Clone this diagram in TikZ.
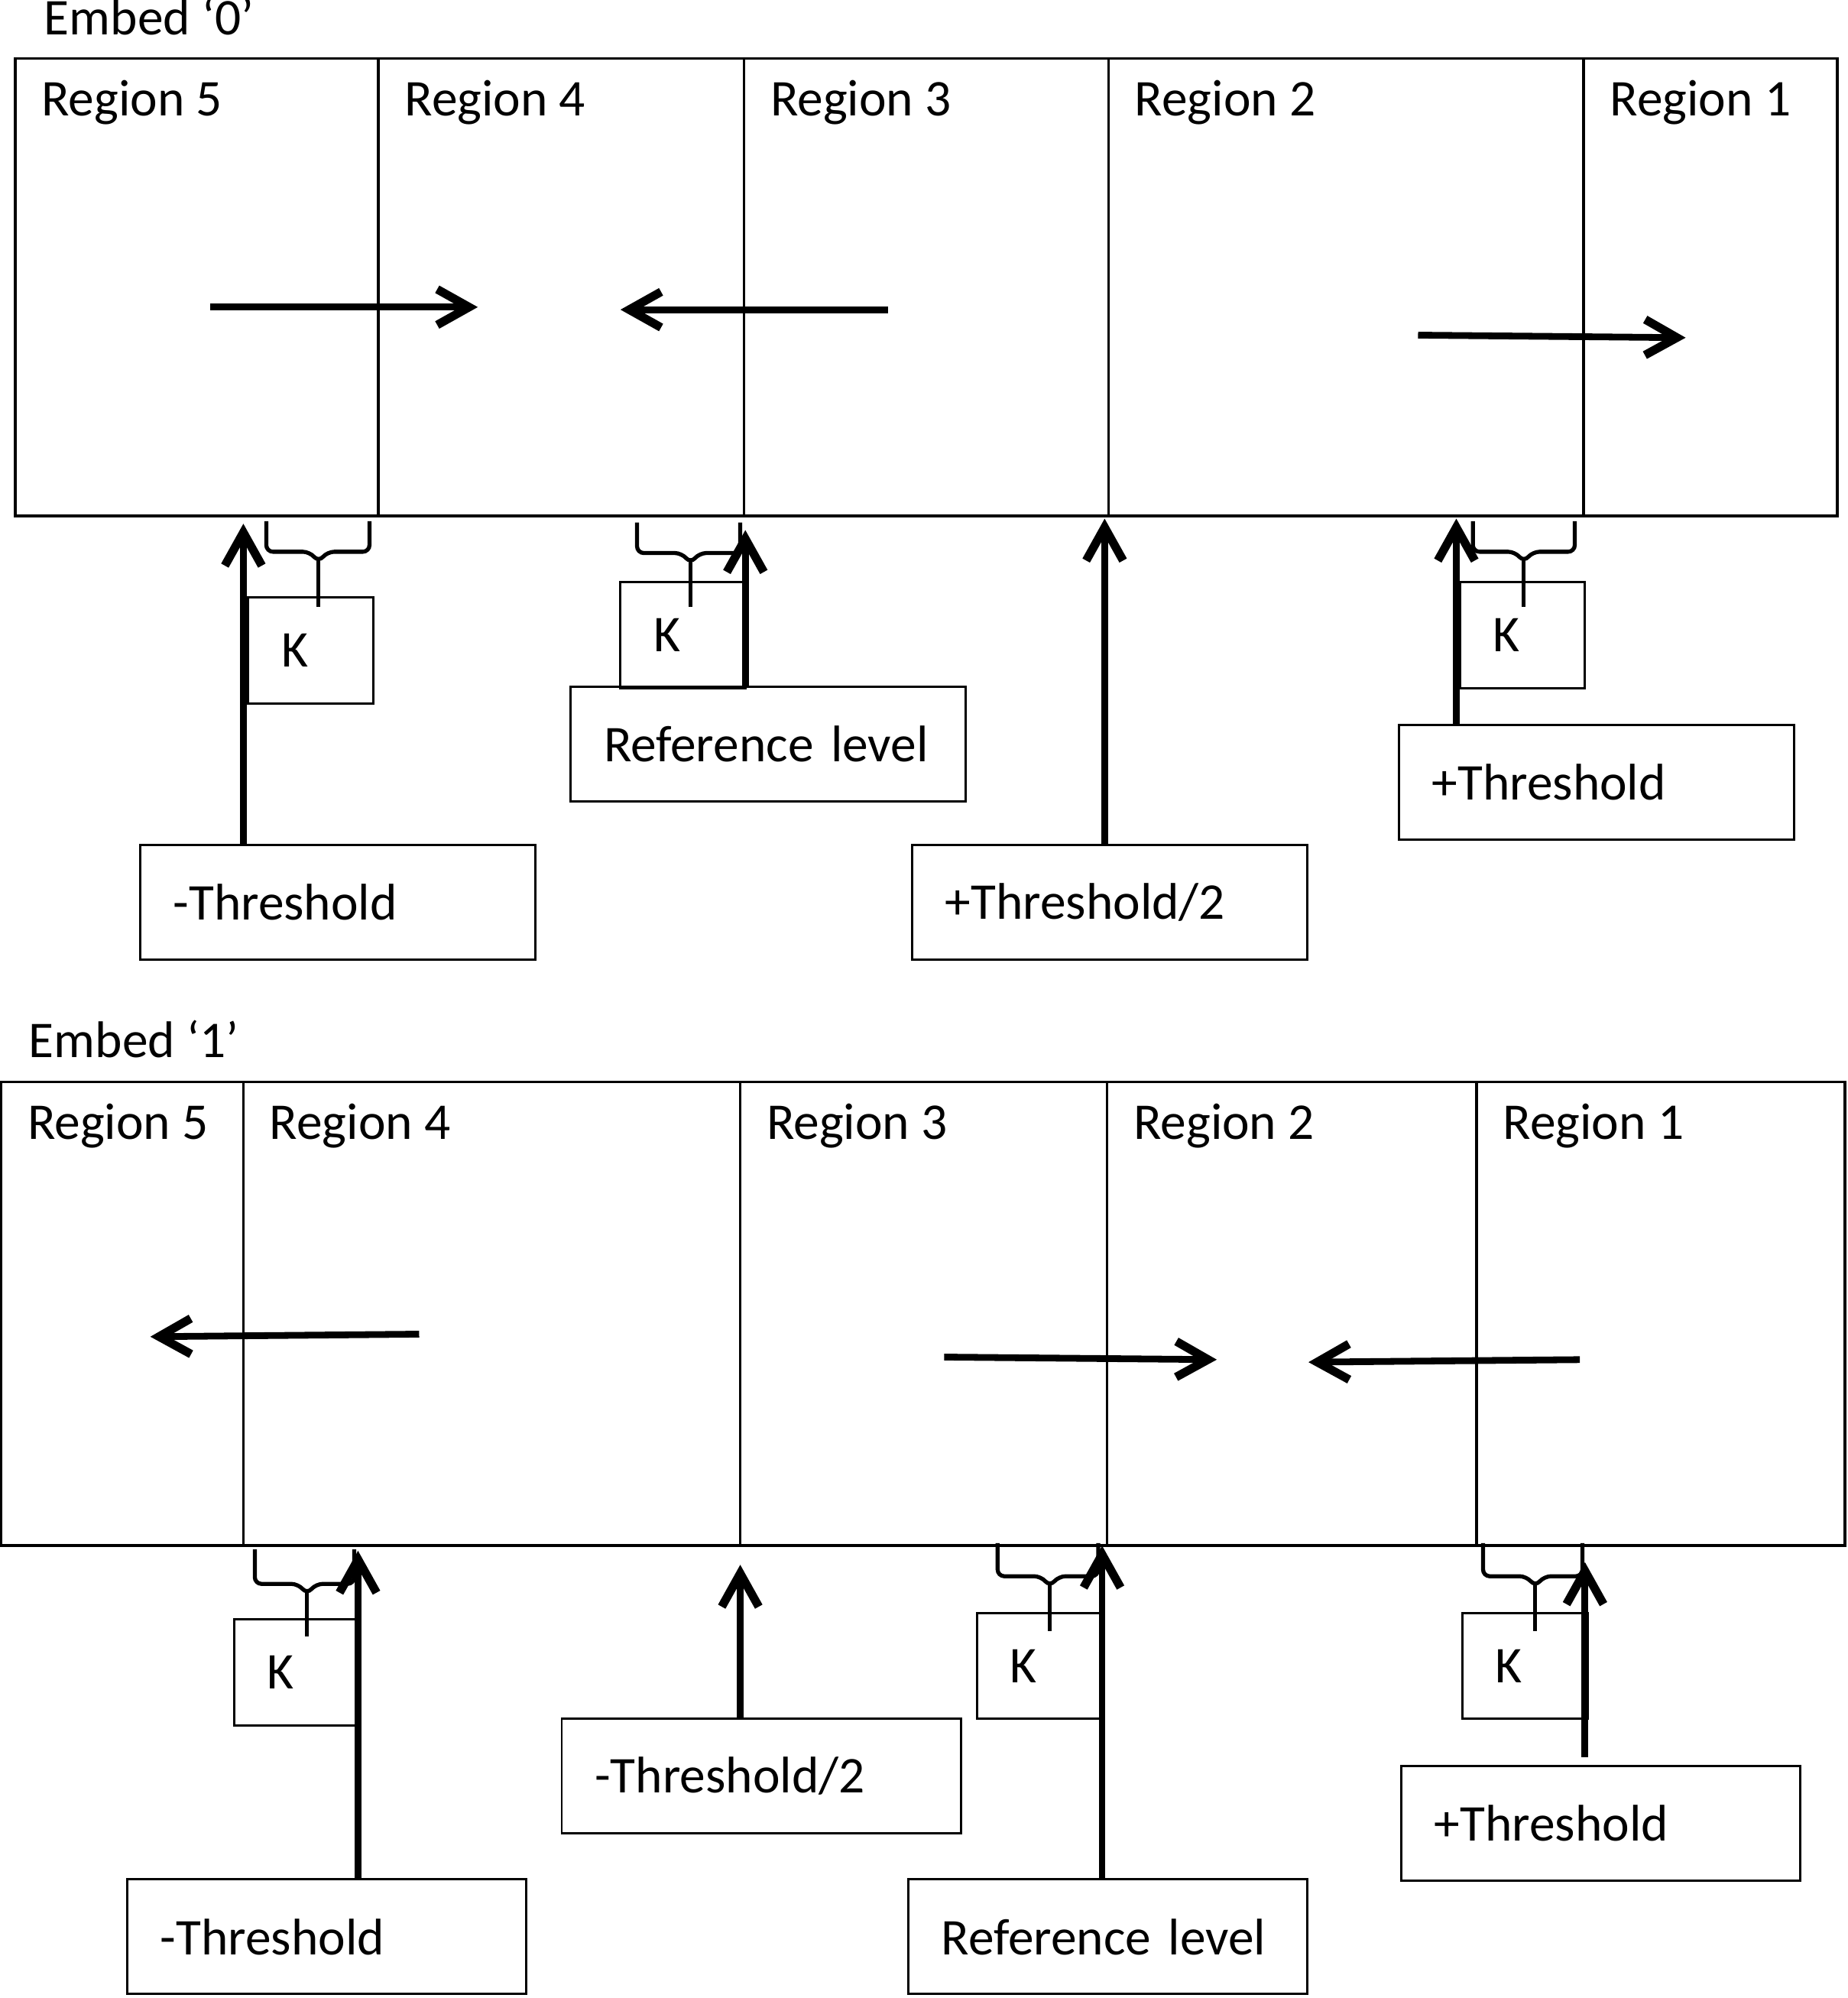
\documentclass[tikz,border=0pt]{standalone}
\usepackage{fontspec}
\setmainfont{Carlito}
\usetikzlibrary{arrows.meta}
\begin{document}
\begin{tikzpicture}[x=0.01cm,y=-0.01cm,
		every node/.style={font=\fontsize{11.5}{13.8}\selectfont},
		frame/.style={draw,line width=0.6pt},
		lvl/.style={draw,line width=0.5pt,anchor=north west,inner xsep=2.6mm,inner ysep=0pt,text width=#1,minimum height=9mm,align=left},
		lvl/.default=25.8mm,
		kbox/.style={draw,line width=0.5pt,anchor=north west,inner xsep=2.6mm,inner ysep=0pt,text width=4.6mm,minimum height=8.3mm,align=left},
		reg/.style={anchor=base west,inner sep=0pt},
		uparrow/.style={line width=1.5pt,-{Straight Barb[length=2.6mm,width=2.9mm,line width=1.9pt]}},
		harrow/.style={line width=1.5pt,-{Straight Barb[length=2.5mm,width=2.8mm,line width=1.9pt]}},
		kbrace/.style={line width=0.9pt,rounded corners=1.5pt}]
		\useasboundingbox (0,0) rectangle (1450,1568);
		\node[reg] at (34,27) (embA) {Embed `0'};
		\draw[frame] (12,46) rectangle (1442,405);
		\foreach \x in {297,584,870,1243} \draw[frame] (\x,46) -- (\x,405);
		\foreach \x/\n in {12/5,297/4,584/3,870/2,1243/1} \node[reg] at (\x+20,91) (rA\n) {Region \n};
		\draw[harrow] (165,241) -- (375,241);
		\draw[harrow] (697,243) -- (487,243);
		\draw[harrow] (1113,263) -- (1323,265);
		\node[lvl] at (109,662) (thrA) {-Threshold};
		\node[lvl] at (447,538) (refA) {Reference level};
		\node[lvl] at (715,662) (halfA) {+Threshold/2};
		\node[lvl] at (1097,568) (thrpA) {+Threshold};
		\node[kbox] at (194,468) (kA1) {K};
		\node[kbox] at (486,456) (kA2) {K};
		\node[kbox] at (1145,456) (kA3) {K};
		\coordinate (tA1) at (191,411);
		\coordinate (tA2) at (585,416);
		\coordinate (tA3) at (867,407);
		\coordinate (tA4) at (1143,407);
		\draw[uparrow] (thrA.north -| tA1) -- (tA1);
		\draw[uparrow] (refA.north -| tA2) -- (tA2);
		\draw[uparrow] (halfA.north -| tA3) -- (tA3);
		\draw[uparrow] (thrpA.north -| tA4) -- (tA4);
		\foreach \l/\r/\m/\t/\h/\b in {209/290/250/409/433/476,500/581/542/410/434/476,1156/1236/1196/409/433/476}{
			\draw[kbrace] (\l,\t) -- (\l,\h) -- (\m-7,\h) -- (\m,\h+8) -- (\m+7,\h) -- (\r,\h) -- (\r,\t);
			\draw[kbrace] (\m,\h+6) -- (\m,\b);
		}
		\node[reg] at (22,830) (embB) {Embed `1'};
		\draw[frame] (1,849) rectangle (1448,1213);
		\foreach \x in {191,581,869,1159} \draw[frame] (\x,849) -- (\x,1213);
		\foreach \x/\n in {1/5,191/4,581/3,869/2,1159/1} \node[reg] at (\x+20,894) (rB\n) {Region \n};
		\draw[harrow] (329,1047) -- (118,1049);
		\draw[harrow] (741,1065) -- (955,1067);
		\draw[harrow] (1240,1067) -- (1027,1069);
		\node[lvl=26.1mm] at (99,1474) (thrB) {-Threshold};
		\node[lvl=26.1mm] at (440,1348) (halfB) {-Threshold/2};
		\node[lvl=26.1mm] at (712,1474) (refB) {Reference level};
		\node[lvl=26.1mm] at (1099,1385) (thrpB) {+Threshold};
		\node[kbox] at (183,1270) (kB1) {K};
		\node[kbox] at (766,1265) (kB2) {K};
		\node[kbox] at (1147,1265) (kB3) {K};
		\coordinate (tB1) at (281,1217);
		\coordinate (tB2) at (581,1228);
		\coordinate (tB3) at (865,1213);
		\coordinate (tB4) at (1244,1226);
		\draw[uparrow] (thrB.north -| tB1) -- (tB1);
		\draw[uparrow] (halfB.north -| tB2) -- (tB2);
		\draw[uparrow] (refB.north -| tB3) -- (tB3);
		\draw[uparrow] ([yshift=0.6mm]thrpB.north -| tB4) -- (tB4);
		\foreach \l/\r/\m/\t/\h/\b in {200/278/241/1216/1243/1284,783/862/824/1211/1237/1280,1164/1242/1205/1211/1237/1280}{
			\draw[kbrace] (\l,\t) -- (\l,\h) -- (\m-7,\h) -- (\m,\h+8) -- (\m+7,\h) -- (\r,\h) -- (\r,\t);
			\draw[kbrace] (\m,\h+6) -- (\m,\b);
		}
	\end{tikzpicture}
\end{document}
